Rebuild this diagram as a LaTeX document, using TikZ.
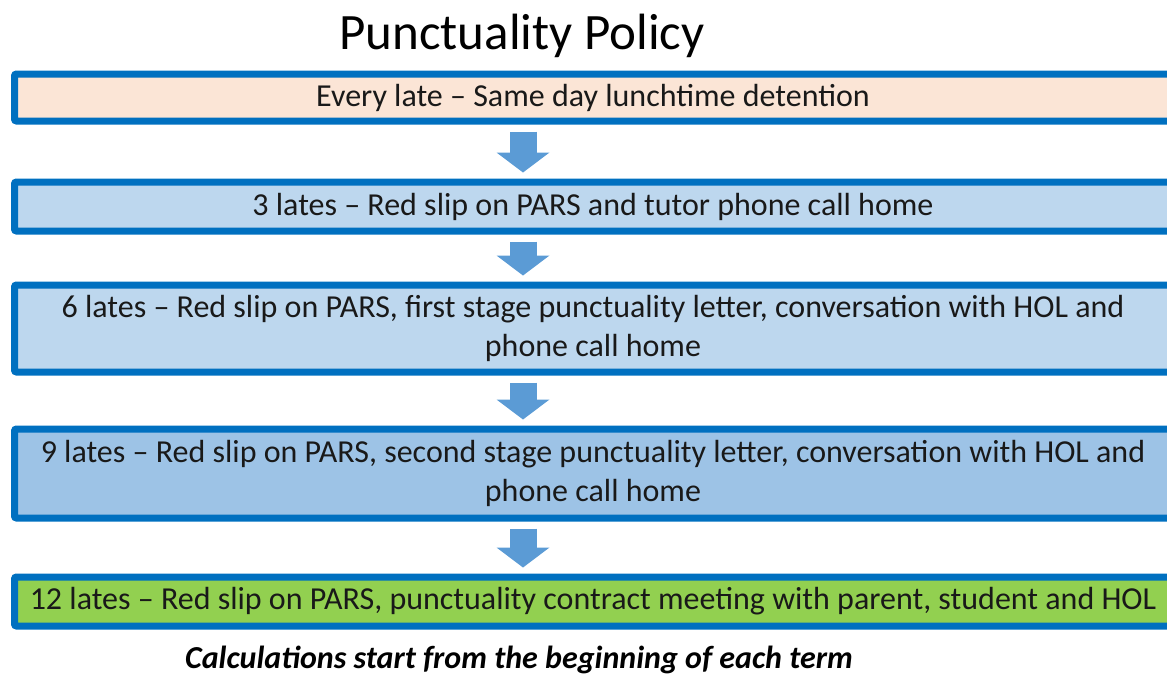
\documentclass[tikz,border=0pt]{standalone}
\usepackage{fontspec}
\setmainfont{Carlito}
\usetikzlibrary{arrows.meta}
\definecolor{edgeblue}{HTML}{0070C0}
\definecolor{arrowblue}{HTML}{5B9BD5}
\definecolor{peach}{HTML}{FBE5D6}
\definecolor{paleblue}{HTML}{BDD7EE}
\definecolor{midblue}{HTML}{9DC3E6}
\definecolor{limegreen}{HTML}{92D050}

\begin{document}
\begin{tikzpicture}[x=1pt, y=-1pt,
stagenode/.style={rectangle, draw=edgeblue, line width=7pt, rounded corners=2pt, minimum width=1157pt, inner sep=0pt, align=center, text=black!90, font=\fontsize{32}{39}\selectfont},
flowarrow/.style={arrowblue, line width=27pt, -{Triangle[width=53pt, length=20pt, line width=0pt]}, shorten <=7pt, shorten >=6pt},
]
\useasboundingbox (0,0) rectangle (1167,678);

% Title and note
\node (title) at (522,36) {\fontsize{51}{58}\selectfont Punctuality Policy};
\node (note) at (519,660) {\fontsize{32}{38}\selectfont\bfseries\itshape Calculations start from the beginning of each term};

% Stage nodes
\node[stagenode, fill=peach, minimum height=47pt]     (everylate)   at (593,97.5)  {Every late -- Same day lunchtime detention};
\node[stagenode, fill=paleblue, minimum height=49pt]  (threelates)  at (593,206.5) {3 lates -- Red slip on PARS and tutor phone call home};
\node[stagenode, fill=paleblue, minimum height=87pt]  (sixlates)    at (593,328.5) {6 lates -- Red slip on PARS, first stage punctuality letter, conversation with HOL and\\phone call home};
\node[stagenode, fill=midblue, minimum height=89pt]   (ninelates)   at (593,473.5) {9 lates -- Red slip on PARS, second stage punctuality letter, conversation with HOL and\\phone call home};
\node[stagenode, fill=limegreen, minimum height=49pt] (twelvelates) at (593,601.5) {12 lates -- Red slip on PARS, punctuality contract meeting with parent, student and HOL};

\draw[flowarrow] ([xshift=-70pt]everylate.south) -- ([xshift=-70pt]threelates.north);
\draw[flowarrow] ([xshift=-70pt]threelates.south) -- ([xshift=-70pt]sixlates.north);
\draw[flowarrow] ([xshift=-70pt]sixlates.south) -- ([xshift=-70pt]ninelates.north);
\draw[flowarrow] ([xshift=-70pt]ninelates.south) -- ([xshift=-70pt]twelvelates.north);
\end{tikzpicture}
\end{document}
